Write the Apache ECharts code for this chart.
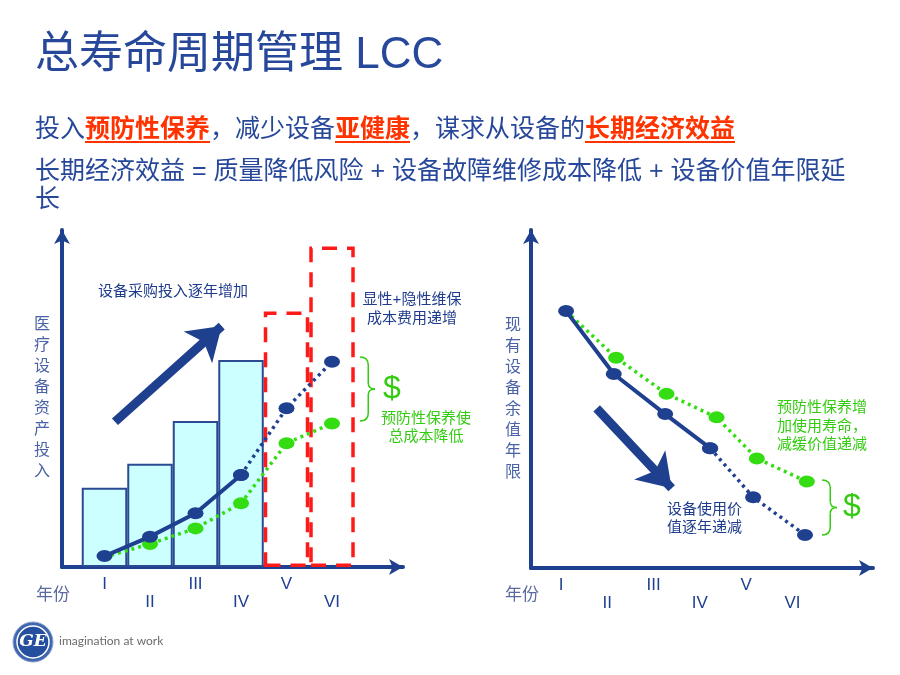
<!DOCTYPE html>
<html><head><meta charset="utf-8">
<script src="https://cdn.jsdelivr.net/npm/echarts@6/dist/echarts.min.js"></script>
<style>html,body{margin:0;padding:0;background:#fff}#c{width:900px;height:675px}</style>
</head><body><div id="c"></div>
<script>
// ---------- data ----------
const years = ['I', 'II', 'III', 'IV', 'V', 'VI'];
const yearPos = [1, 2, 3, 4, 5, 6];
// left chart: asset investment bars (I-IV) and hidden-cost boxes (V, VI)
const assetInvest = [24.0, 31.3, 44.2, 62.7];
const hiddenCostBoxes = [77.4, 97.1];
// total cost without / with preventive maintenance
const totalCostNoPM = [3.3, 9.2, 16.3, 27.9, 48.1, 62.2];
const totalCostPM = [3.0, 7.0, 11.7, 19.3, 37.5, 43.5];
// right chart: remaining asset value
const valueNoPMx = [1.11, 2.14, 3.25, 4.22, 5.15, 6.27];
const valueNoPM = [77.6, 58.6, 46.5, 36.2, 21.4, 10.0];
const valuePMx = [1.11, 2.19, 3.28, 4.36, 5.23, 6.31];
const valuePM = [77.6, 63.5, 52.6, 45.5, 33.1, 26.1];
// trend arrows (data coords, start -> tip)
const leftArrow = [[1.23, 44.0], [3.576, 73.0]];
const rightArrow = [[1.77, 48.2], [3.39, 24.1]];

// ---------- styles ----------
const NAVY = '#1f3f8f';
const TXT = '#27489a';
const GREEN = '#33dd11';
const GTXT = '#33cc11';
const RED = '#ff1a1a';
const FF = '"Liberation Sans", "Noto Sans CJK SC", sans-serif';

const chart = echarts.init(document.getElementById('c'), null, {renderer: 'canvas'});

function xAxisCfg(grid, min, max) {
  return {
    gridIndex: grid, type: 'value', min: min, max: max, position: 'bottom',
    axisLine: {show: true, symbol: ['none', 'arrow'], symbolSize: [12, 14],
      lineStyle: {color: NAVY, width: 4}},
    axisTick: {show: false}, splitLine: {show: false},
    axisLabel: {
      customValues: yearPos,
      formatter: v => { const i = Math.round(v) - 1; return (i % 2 === 1 ? '\n' : '') + years[i]; },
      fontSize: 17, lineHeight: 18, margin: 8, color: NAVY, fontFamily: FF
    }
  };
}
function yAxisCfg(grid, name, gap, max) {
  return {
    gridIndex: grid, type: 'value', min: 0, max: max,
    axisLine: {show: true, symbol: ['none', 'arrow'], symbolSize: [12, 14],
      lineStyle: {color: NAVY, width: 4}},
    axisTick: {show: false}, splitLine: {show: false}, axisLabel: {show: false},
    name: name.split('').join('\n'), nameLocation: 'middle', nameRotate: 0, nameGap: gap,
    nameTextStyle: {fontSize: 16, lineHeight: 21, color: '#4a62a6', fontFamily: FF, padding: [0, 0, 12, 0]}
  };
}

const barData = assetInvest.map((v, i) => ({
  value: [yearPos[i], v],
  itemStyle: {color: '#ccffff', borderColor: '#2b4a93', borderWidth: 2}
})).concat(hiddenCostBoxes.map((v, i) => ({
  value: [yearPos[4 + i], v],
  itemStyle: {color: 'rgba(0,0,0,0)', borderColor: RED, borderWidth: 3.5, borderType: [15, 10]}
})));

const pts = (xs, ys) => ys.map((y, i) => [xs[i], y]);
const arrowMark = (a) => ({
  silent: true, symbol: ['none', 'arrow'], symbolSize: [32, 32],
  label: {show: false},
  lineStyle: {color: NAVY, width: 9, type: 'solid'},
  data: [[{coord: a[0]}, {coord: a[1]}]]
});

const ellipse = [16, 12];

const series = [
  {type: 'bar', xAxisIndex: 0, yAxisIndex: 0, barWidth: 45.5, data: barData, z: 1},
  {type: 'line', xAxisIndex: 0, yAxisIndex: 0, z: 4,
    data: pts(yearPos, totalCostPM).map((p, i) => i === 0 ? {value: p, symbol: 'none'} : p),
    symbol: 'circle', symbolSize: ellipse, itemStyle: {color: GREEN},
    lineStyle: {color: GREEN, width: 3.5, type: [3, 4]}},
  {type: 'line', xAxisIndex: 0, yAxisIndex: 0, z: 5,
    data: pts(yearPos, totalCostNoPM).slice(3),
    symbol: 'circle', symbolSize: ellipse, itemStyle: {color: NAVY},
    lineStyle: {color: NAVY, width: 3.5, type: [3, 4]}},
  {type: 'line', xAxisIndex: 0, yAxisIndex: 0, z: 5,
    data: pts(yearPos, totalCostNoPM).slice(0, 4),
    symbol: 'circle', symbolSize: ellipse, itemStyle: {color: NAVY},
    lineStyle: {color: NAVY, width: 4},
    markLine: arrowMark(leftArrow)},
  // right chart
  {type: 'line', xAxisIndex: 1, yAxisIndex: 1, z: 4,
    data: pts(valuePMx, valuePM).map((p, i) => i === 0 ? {value: p, symbol: 'none'} : p),
    symbol: 'circle', symbolSize: ellipse, itemStyle: {color: GREEN},
    lineStyle: {color: GREEN, width: 3.5, type: [3, 4]}},
  {type: 'line', xAxisIndex: 1, yAxisIndex: 1, z: 5,
    data: pts(valueNoPMx, valueNoPM).slice(3),
    symbol: 'circle', symbolSize: ellipse, itemStyle: {color: NAVY},
    lineStyle: {color: NAVY, width: 3.5, type: [3, 4]}},
  {type: 'line', xAxisIndex: 1, yAxisIndex: 1, z: 5,
    data: pts(valueNoPMx, valueNoPM).slice(0, 4),
    symbol: 'circle', symbolSize: ellipse, itemStyle: {color: NAVY},
    lineStyle: {color: NAVY, width: 4},
    markLine: arrowMark(rightArrow)}
];

function txt(x, y, text, size, color, align) {
  return {type: 'text', x: x, y: y, silent: true,
    style: {text: text, fontSize: size, fill: color, fontFamily: FF,
      align: align || 'left', verticalAlign: 'middle'}};
}
function brace(x0, y0, y1, w) {
  const ym = (y0 + y1) / 2, xm = x0 + w * 0.55, xt = x0 + w;
  const st = {fill: 'none', stroke: GTXT, lineWidth: 1.5};
  return {type: 'group', silent: true, children: [
    {type: 'bezierCurve', shape: {x1: x0, y1: y0, x2: xm, y2: y0 + 8, cpx1: xm, cpy1: y0}, style: st},
    {type: 'line', shape: {x1: xm, y1: y0 + 8, x2: xm, y2: ym - 6}, style: st},
    {type: 'bezierCurve', shape: {x1: xm, y1: ym - 6, x2: xt, y2: ym, cpx1: xm, cpy1: ym}, style: st},
    {type: 'bezierCurve', shape: {x1: xt, y1: ym, x2: xm, y2: ym + 6, cpx1: xm, cpy1: ym}, style: st},
    {type: 'line', shape: {x1: xm, y1: ym + 6, x2: xm, y2: y1 - 8}, style: st},
    {type: 'bezierCurve', shape: {x1: xm, y1: y1 - 8, x2: x0, y2: y1, cpx1: xm, cpy1: y1}, style: st}
  ]};
}

const graphic = [
  txt(35, 56, '总寿命周期管理 LCC', 44, TXT),
  {type: 'text', x: 35, y: 130, silent: true, style: {
    text: '{n|投入}{r|预防性保养}{n|，减少设备}{r|亚健康}{n|，谋求从设备的}{r|长期经济效益}',
    verticalAlign: 'middle',
    rich: {
      n: {fontSize: 25, fill: TXT, color: TXT, fontFamily: FF},
      r: {fontSize: 25, fill: '#ff3300', color: '#ff3300', fontWeight: 'bold', fontFamily: FF}
    }}},
  {type: 'line', silent: true, shape: {x1: 85, y1: 142, x2: 210, y2: 142}, style: {stroke: '#ff3300', lineWidth: 2}},
  {type: 'line', silent: true, shape: {x1: 335, y1: 142, x2: 410, y2: 142}, style: {stroke: '#ff3300', lineWidth: 2}},
  {type: 'line', silent: true, shape: {x1: 585, y1: 142, x2: 735, y2: 142}, style: {stroke: '#ff3300', lineWidth: 2}},
  txt(35, 172, '长期经济效益 = 质量降低风险 + 设备故障维修成本降低 + 设备价值年限延', 25, TXT),
  txt(35, 200, '长', 25, TXT),
  // left chart notes
  txt(173, 292, '设备采购投入逐年增加', 15, '#1f3c8c', 'center'),
  txt(412, 300, '显性+隐性维保', 15, '#1f3c8c', 'center'),
  txt(412, 319, '成本费用递增', 15, '#1f3c8c', 'center'),
  brace(360, 357, 421, 15),
  txt(392, 389, '$', 32, GTXT, 'center'),
  txt(426, 419, '预防性保养使', 15, GTXT, 'center'),
  txt(426, 437, '总成本降低', 15, GTXT, 'center'),
  txt(53, 595, '年份', 17, '#5a6aa0', 'center'),
  // right chart notes
  txt(777, 408, '预防性保养增', 15, GTXT),
  txt(777, 427, '加使用寿命，', 15, GTXT),
  txt(777, 445, '减缓价值递减', 15, GTXT),
  txt(667, 510, '设备使用价', 15, '#1f3c8c'),
  txt(667, 528, '值逐年递减', 15, '#1f3c8c'),
  brace(822, 480, 535, 15),
  txt(852, 507, '$', 32, GTXT, 'center'),
  txt(522, 595, '年份', 17, '#5a6aa0', 'center'),
  // logo
  {type: 'circle', silent: true, shape: {cx: 33, cy: 642, r: 20}, style: {fill: '#3f66b0', stroke: '#8fa3c8', lineWidth: 1}},
  {type: 'circle', silent: true, shape: {cx: 33, cy: 642, r: 16}, style: {fill: '#244f9e', stroke: '#ffffff', lineWidth: 1.5}},
  {type: 'text', x: 33, y: 642, silent: true, style: {text: 'GE', fontSize: 17, fontStyle: 'italic', fontWeight: 'bold',
    fontFamily: '"DejaVu Serif", serif', fill: '#ffffff', align: 'center', verticalAlign: 'middle'}},
  {type: 'text', x: 59, y: 641, silent: true, style: {text: 'imagination at work', fontSize: 12, fill: '#6a6a6a',
    fontFamily: 'Lato, "Liberation Sans", sans-serif', align: 'left', verticalAlign: 'middle'}}
];

chart.setOption({
  animation: false,
  backgroundColor: '#ffffff',
  grid: [
    {left: 62, top: 230, width: 341, height: 337},
    {left: 531, top: 230, width: 342, height: 338}
  ],
  xAxis: [xAxisCfg(0, 0.066, 7.56), xAxisCfg(1, 0.352, 7.739)],
  yAxis: [yAxisCfg(0, '医疗设备资产投入', 12, 102.1), yAxisCfg(1, '现有设备余值年限', 10, 102.1)],
  series: series,
  graphic: graphic
});
</script>
</body></html>
